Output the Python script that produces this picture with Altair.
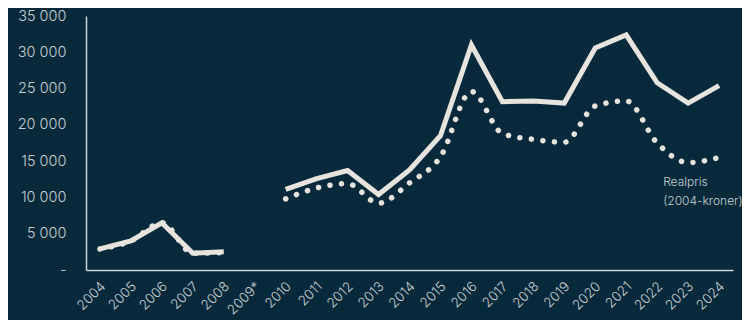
import altair as alt
import pandas as pd

years = ["2004", "2005", "2006", "2007", "2008", "2009*", "2010", "2011", "2012", "2013",
         "2014", "2015", "2016", "2017", "2018", "2019", "2020", "2021", "2022", "2023", "2024"]
nominal = [2900, 4000, 6500, 2300, 2500, None, 11100, 12600, 13700, 10400,
           13800, 18500, 31000, 23200, 23300, 23000, 30600, 32400, 25800, 23000, 25400]
real = [2900, 4000, 6500, 2300, 2400, None, 9800, 11300, 11900, 9200,
        12000, 15600, 24600, 18800, 18000, 17600, 22600, 23300, 17500, 14800, 15500]
ytick_values = [0, 5000, 10000, 15000, 20000, 25000, 30000, 35000]

BG = "#062a3b"
FG = "#e7e3de"
TXT = "#c9cfd2"
FONT = "Inter"

df = pd.DataFrame({"year": years, "nominal": nominal, "real": real})

xscale = alt.Scale(type="point", domain=years, padding=0.45)
xaxis = alt.Axis(title=None, labelAngle=-45, ticks=False, labelPadding=9, labelOffset=-2,
                 domainColor="#cfd3d5", domainWidth=1.5, labelColor=TXT,
                 labelFontSize=13.5, labelFont=FONT, labelFontWeight=300,
                 grid=False, labelOverlap=False)
yscale = alt.Scale(domain=[0, 35000], nice=False)
yaxis = alt.Axis(title=None, values=ytick_values,
                 labelExpr="datum.value == 0 ? '-' : replace(format(datum.value, ','), ',', ' ')",
                 ticks=False, grid=False, labelPadding=20, domainColor="#cfd3d5", domainWidth=1.5,
                 labelColor=TXT, labelFontSize=14.5, labelFont=FONT, labelFontWeight=300,
                 labelOverlap=False)

base = alt.Chart(df)
dotted = base.mark_line(color=FG, strokeWidth=5.5, strokeCap="round", strokeDash=[0.1, 11.5],
                        interpolate="monotone", invalid="break-paths-show-domains").encode(
    x=alt.X("year:N", sort=years, scale=xscale, axis=xaxis),
    y=alt.Y("real:Q", scale=yscale, axis=yaxis))
solid = base.mark_line(color=FG, strokeWidth=5, invalid="break-paths-show-domains").encode(
    x=alt.X("year:N", sort=years, scale=xscale, axis=xaxis),
    y=alt.Y("nominal:Q", scale=yscale, axis=yaxis))

lab = pd.DataFrame({"year": ["2022"], "v": [12100], "t": ["Realpris\n(2004-kroner)"]})
label = alt.Chart(lab).mark_text(align="left", baseline="middle", dx=6, lineBreak="\n",
                                 lineHeight=19, fontSize=12, font=FONT, fontWeight=300,
                                 color=TXT).encode(
    x=alt.X("year:N", sort=years, scale=xscale, axis=xaxis),
    y=alt.Y("v:Q", scale=yscale, axis=yaxis), text="t:N")

chart = alt.layer(dotted, solid, label).properties(
    width=647, height=254, background=BG, autosize="none",
    padding={"left": 78, "top": 8, "right": 9, "bottom": 50}
).configure_view(stroke=None)

chart.save("out.html", embed_options={"renderer": "svg", "actions": False})
